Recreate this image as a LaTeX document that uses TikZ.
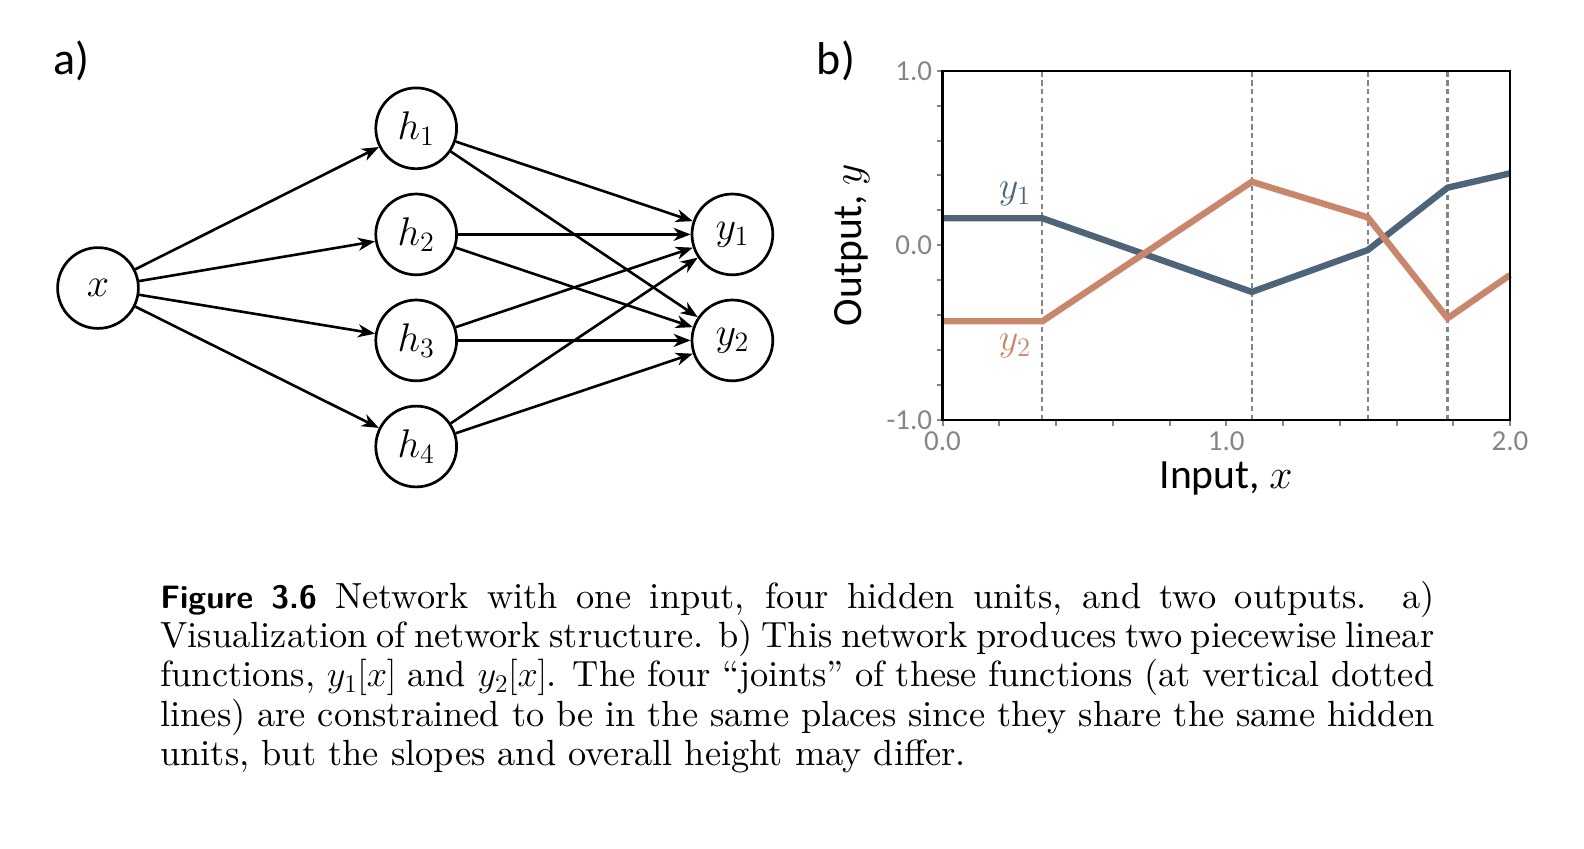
\RequirePackage{fix-cm}
\documentclass[tikz,border=0pt]{standalone}
\usepackage{fontspec}
\newfontfamily\labfont{Carlito}
\newfontfamily\capfont{lmroman10-regular.otf}[BoldFont=lmroman10-bold.otf, ItalicFont=lmroman10-italic.otf]
\usetikzlibrary{arrows.meta}
\definecolor{yone}{HTML}{4E6579}
\definecolor{ytwo}{HTML}{C8866A}
\definecolor{tickgray}{HTML}{858585}
\begin{document}
\begin{tikzpicture}[x=0.5pt,y=-0.5pt,
  neuron/.style={circle, draw, line width=1.35pt, minimum size=40.4pt, inner sep=0pt, font=\fontsize{20}{24}\selectfont},
  conn/.style={-{Stealth[length=8.5pt,width=6.5pt,inset=2.6pt]}, line width=1.3pt},
  joint/.style={draw=tickgray, line width=1.1pt, dash pattern=on 2.6pt off 1.8pt},
  curve/.style={line width=3.2pt},
  tickmark/.style={draw=tickgray, line width=1pt},
  ticklab/.style={text=tickgray, inner sep=0pt, font=\labfont\fontsize{14.5}{17}\selectfont},
  axlab/.style={inner sep=0pt, font=\labfont\fontsize{20.8}{24}\selectfont},
  panel/.style={inner sep=0pt, font=\labfont\fontsize{23}{26}\selectfont}]
\useasboundingbox (0,0) rectangle (1584,848);

% panel labels
\node[panel] (pa) at (71,61) {a)};
\node[panel] (pb) at (836,61) {b)};

% network
\node[neuron] (x) at (98,288) {$x$};
\node[neuron] (h1) at (416.2,128.3) {$h_1$};
\node[neuron] (h2) at (416.2,234.4) {$h_2$};
\node[neuron] (h3) at (416.2,340.4) {$h_3$};
\node[neuron] (h4) at (416.2,446.5) {$h_4$};
\node[neuron] (y1) at (732.4,234.4) {$y_1$};
\node[neuron] (y2) at (732.4,340.4) {$y_2$};
\foreach \h in {h1,h2,h3,h4} {
  \draw[conn] (x) -- (\h);
  \draw[conn] (\h) -- (y1);
  \draw[conn] (\h) -- (y2);
}

% plot
\begin{scope}[shift={(471.25pt,-122.65pt)}, x=141.875pt, y=87.3pt]
  \foreach \j in {0.352,1.09,1.499,1.78} \draw[joint] (\j,-1) -- (\j,1);
  \draw[curve, draw=yone] (0,0.155) -- (0.352,0.155) -- (1.09,-0.267) -- (1.499,-0.027) -- (1.78,0.33) -- (2,0.412);
  \draw[curve, draw=ytwo] (0,-0.435) -- (0.352,-0.435) -- (1.09,0.364) -- (1.499,0.160) -- (1.78,-0.418) -- (2,-0.170);
  \foreach \i in {0,...,10} {
    \draw[tickmark] (0.2*\i,-1) -- ++(0,-3pt);
    \draw[tickmark] (0,-1+0.2*\i) -- ++(-3pt,0);
  }
  \draw[line width=1.2pt] (0,-1) rectangle (2,1);
  \node[ticklab, anchor=east] (ty1) at ([xshift=-5pt]0,1) {1.0};
  \node[ticklab, anchor=east] (ty0) at ([xshift=-5pt]0,0) {0.0};
  \node[ticklab, anchor=east] (tym) at ([xshift=-5pt]0,-1) {-1.0};
  \node[ticklab, anchor=north] (tx0) at ([yshift=-5.5pt]0,-1) {0.0};
  \node[ticklab, anchor=north] (tx1) at ([yshift=-5.5pt]1,-1) {1.0};
  \node[ticklab, anchor=north] (tx2) at ([yshift=-5.5pt]2,-1) {2.0};
\end{scope}
\node[inner sep=0pt, text=yone, font=\fontsize{19}{22}\selectfont] (l1) at (1015,194) {$y_1$};
\node[inner sep=0pt, text=ytwo, font=\fontsize{19}{22}\selectfont] (l2) at (1015,346.5) {$y_2$};
\node[axlab, anchor=north] (xlab) at (1226,461) {Input, $x$};
\node[axlab, rotate=90] (ylab) at (852,245) {Output, $y$};

% caption
\node[anchor=base west, text width=637pt, align=justify, inner sep=0pt, font=\capfont\fontsize{18.2}{19.7}\selectfont] (cap) at (160,608)
 {{\sffamily\bfseries\fontsize{16.2}{19.7}\selectfont Figure 3.6} Network with one input, four hidden units, and two outputs. a)\linebreak
 Visualization of network structure. b) This network produces two piecewise linear\linebreak
 functions, $y_1[x]$ and $y_2[x]$. The four “joints” of these functions (at vertical dotted\linebreak
 lines) are constrained to be in the same places since they share the same hidden\linebreak
 units, but the slopes and overall height may differ.};
\end{tikzpicture}
\end{document}
